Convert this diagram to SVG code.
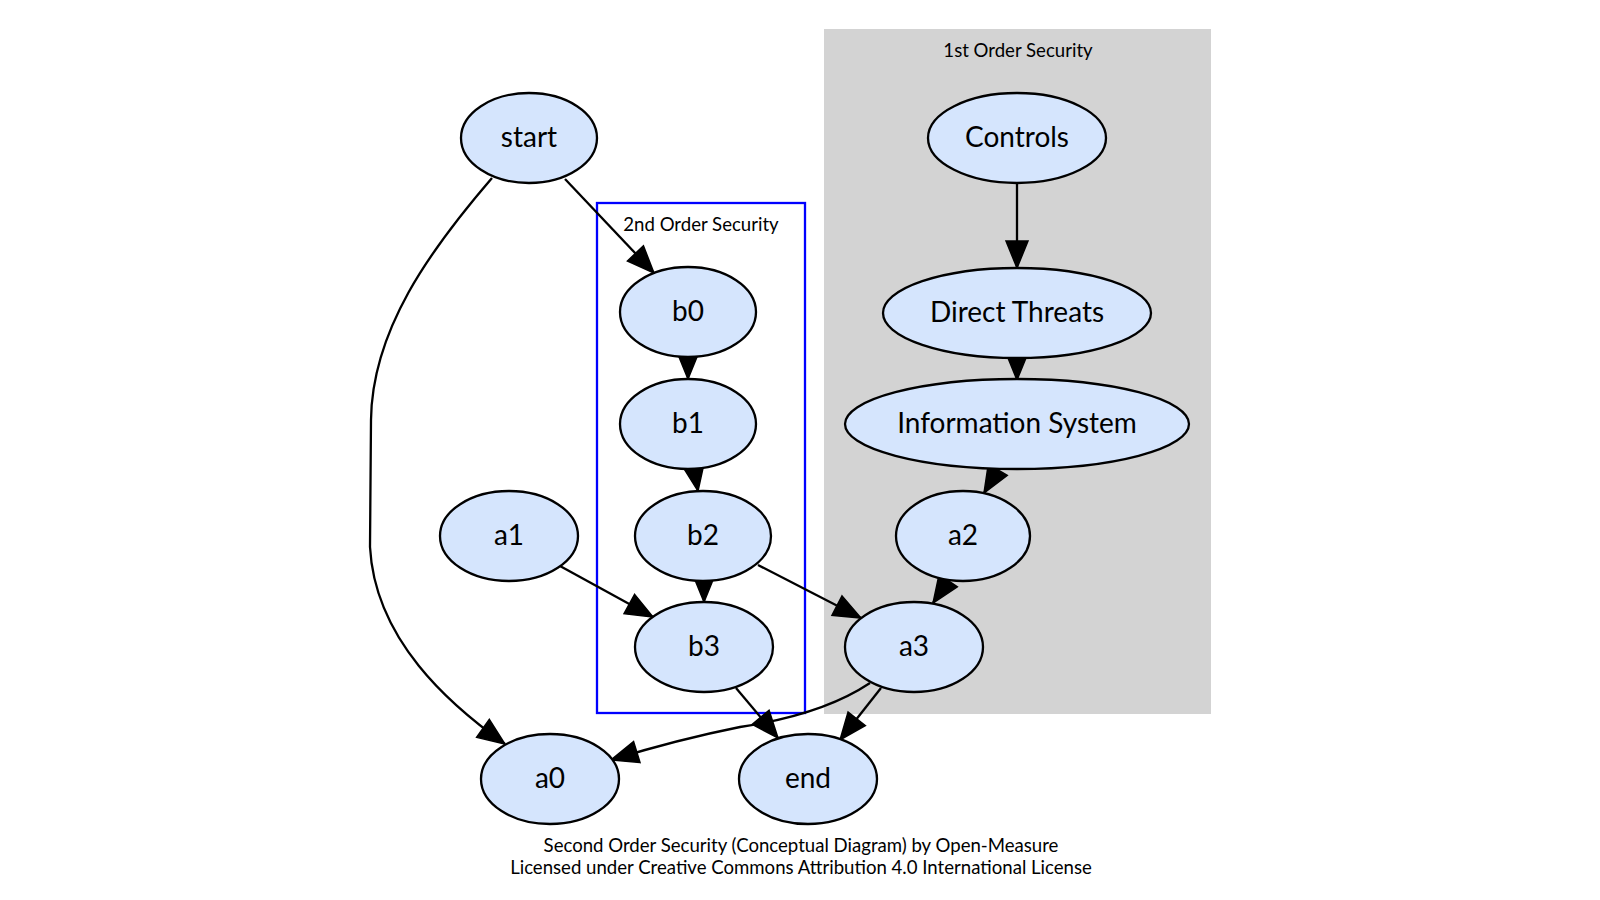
<svg xmlns="http://www.w3.org/2000/svg" width="1600" height="900" viewBox="0 0 1600 900">
<style>
.node ellipse{fill:#d5e5fd;stroke:#000;stroke-width:2.3}
.node text{font-family:Lato,"Open Sans","Liberation Sans",sans-serif;font-size:28px;fill:#000;text-anchor:middle}
.edge path{fill:none;stroke:#000;stroke-width:2.3}
.clabel{font-family:Lato,"Open Sans","Liberation Sans",sans-serif;font-size:18.6px;fill:#000;text-anchor:middle}
</style>
<defs>
<marker id="arr" markerUnits="userSpaceOnUse" markerWidth="32" markerHeight="26" refX="27" refY="11" orient="auto" overflow="visible">
<path d="M0,0 L27,11 L0,22 Z" fill="#000" stroke="#000" stroke-width="1.5"/>
</marker>
</defs>
<rect width="1600" height="900" fill="#fff"/>
<g id="cluster_1st">
<rect x="824" y="29" width="387" height="685" fill="#d3d3d3"/>
<text class="clabel" x="1018" y="57">1st Order Security</text>
</g>
<g id="cluster_2nd">
<rect x="597" y="203" width="208" height="510" fill="none" stroke="#0000ff" stroke-width="2.3"/>
<text class="clabel" x="701" y="231">2nd Order Security</text>
</g>
<g id="edges" class="edge">
<path d="M565,179 L654,273" marker-end="url(#arr)"/>
<path d="M492,178 C430,250 372,330 371,420 L370,547 C375,640 450,705 505,744" marker-end="url(#arr)"/>
<path d="M1017,183 L1017,268" marker-end="url(#arr)"/>
<path d="M1017,356 L1017,380" marker-end="url(#arr)"/>
<path d="M1000,466 L984,493" marker-end="url(#arr)"/>
<path d="M688,356 L688,379" marker-end="url(#arr)"/>
<path d="M694,468 L698,491" marker-end="url(#arr)"/>
<path d="M704,580 L704,602" marker-end="url(#arr)"/>
<path d="M560,566 L653,617" marker-end="url(#arr)"/>
<path d="M758,565 L861,618" marker-end="url(#arr)"/>
<path d="M950,578 L933,603" marker-end="url(#arr)"/>
<path d="M736,688 L778,738" marker-end="url(#arr)"/>
<path d="M881,688 L840,740" marker-end="url(#arr)"/>
<path d="M870,683 C840,703 800,718 740,727 C700,735 650,748 611,760" marker-end="url(#arr)"/>
</g>
<g id="node_start" class="node"><ellipse cx="529" cy="138" rx="68" ry="45"/><text x="529" y="147">start</text></g>
<g id="node_controls" class="node"><ellipse cx="1017" cy="138" rx="89" ry="45"/><text x="1017" y="147">Controls</text></g>
<g id="node_b0" class="node"><ellipse cx="688" cy="312" rx="68" ry="45"/><text x="688" y="321">b0</text></g>
<g id="node_direct_threats" class="node"><ellipse cx="1017" cy="313" rx="134" ry="45"/><text x="1017" y="322">Direct Threats</text></g>
<g id="node_b1" class="node"><ellipse cx="688" cy="424" rx="68" ry="45"/><text x="688" y="433">b1</text></g>
<g id="node_information_system" class="node"><ellipse cx="1017" cy="424" rx="172" ry="45"/><text x="1017" y="433">Information System</text></g>
<g id="node_a1" class="node"><ellipse cx="509" cy="536" rx="69" ry="45"/><text x="509" y="545">a1</text></g>
<g id="node_b2" class="node"><ellipse cx="703" cy="536" rx="68" ry="45"/><text x="703" y="545">b2</text></g>
<g id="node_a2" class="node"><ellipse cx="963" cy="536" rx="67" ry="45"/><text x="963" y="545">a2</text></g>
<g id="node_b3" class="node"><ellipse cx="704" cy="647" rx="69" ry="45"/><text x="704" y="656">b3</text></g>
<g id="node_a3" class="node"><ellipse cx="914" cy="647" rx="69" ry="45"/><text x="914" y="656">a3</text></g>
<g id="node_a0" class="node"><ellipse cx="550" cy="779" rx="69" ry="45"/><text x="550" y="788">a0</text></g>
<g id="node_end" class="node"><ellipse cx="808" cy="779" rx="69" ry="45"/><text x="808" y="788">end</text></g>
<g id="caption">
<text class="clabel" x="801" y="852">Second Order Security (Conceptual Diagram) by Open-Measure</text>
<text class="clabel" x="801" y="874">Licensed under Creative Commons Attribution 4.0 International License</text>
</g>
</svg>
